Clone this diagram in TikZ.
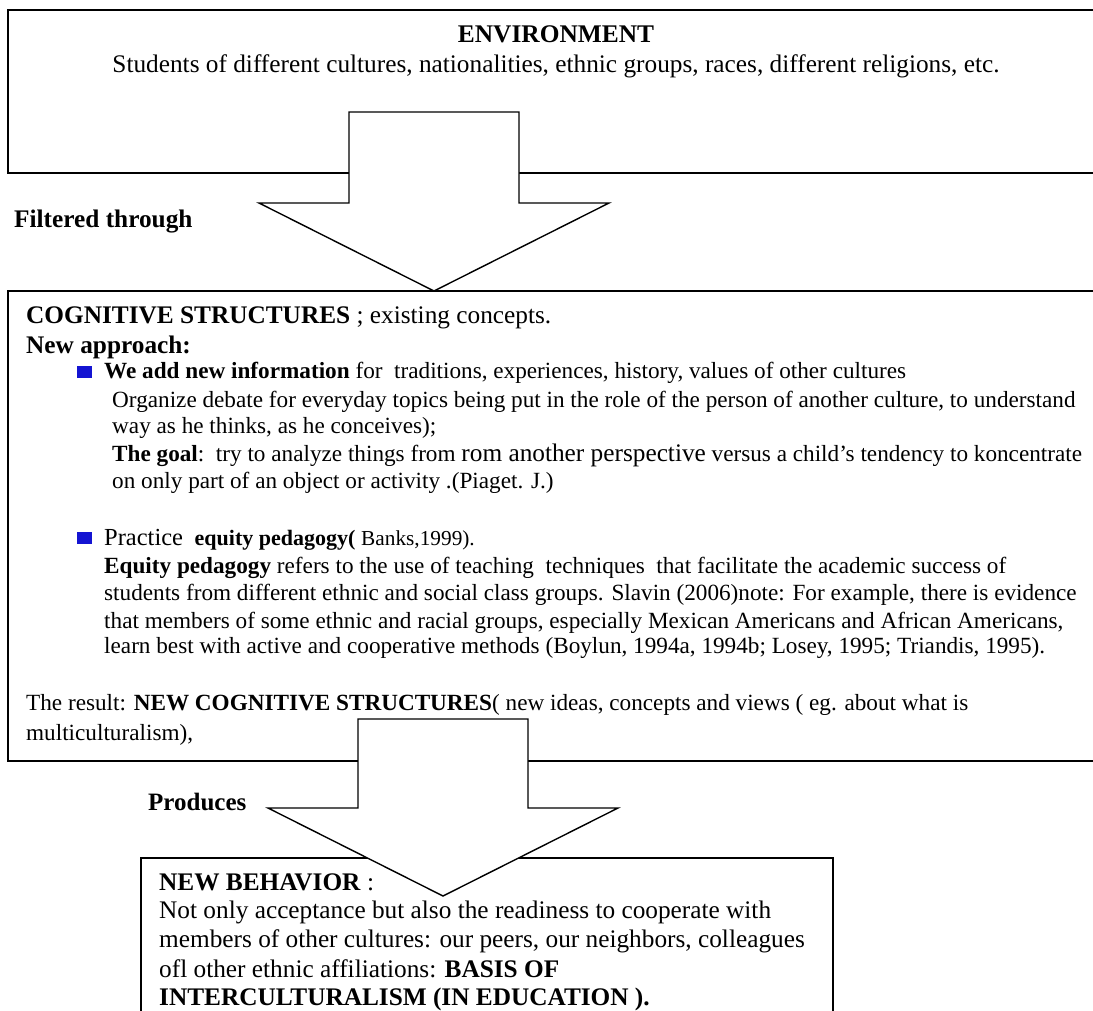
\documentclass[tikz,border=0pt]{standalone}
\usepackage{fontspec}
\setmainfont{Liberation Serif}
\definecolor{bulletblue}{RGB}{20,20,210}
\newcommand{\bigf}{\fontsize{25.3}{30}\selectfont}
\newcommand{\smallf}{\fontsize{21.3}{25}\selectfont}
\newcommand{\midf}{\fontsize{22}{26}\selectfont}
\begin{document}
\begin{tikzpicture}[x=1pt,y=-1pt,
  boxline/.style={draw, line width=1.8pt},
  blockarrow/.style={draw, line width=1.4pt, fill=white, line join=miter},
  txt/.style={anchor=base west, inner sep=0pt, font=\fontsize{23.2}{27}\selectfont},
  htxt/.style={anchor=base west, inner sep=0pt, font=\fontsize{25.3}{30}\selectfont},
  ctxt/.style={anchor=base, inner sep=0pt, font=\fontsize{25.3}{30}\selectfont},
  bsq/.style={fill=bulletblue, inner sep=0pt, minimum width=15pt, minimum height=12pt}]
\useasboundingbox (0,0) rectangle (1093,1010);
\clip (0,0) rectangle (1093,1010);
% top box
\draw[boxline] (1100,10) -- (8,10) -- (8,173) -- (1100,173);
\node[ctxt, font=\fontsize{25.4}{30}\selectfont\bfseries] (env) at (556,42) {ENVIRONMENT};
\node[ctxt] (stud) at (556,72) {Students of different cultures, nationalities, ethnic groups, races, different religions, etc.};
% arrow 1
\draw[blockarrow] (349,112) -- (519,112) -- (519,203) -- (609,203) -- (434,291) -- (259,203) -- (349,203) -- cycle;
\node[htxt, font=\fontsize{25.3}{30}\selectfont\bfseries] (filt) at (14,227) {Filtered through};
% middle box
\draw[boxline] (1100,291) -- (8,291) -- (8,761) -- (1100,761);
\node[htxt] (cog) at (26,323) {\textbf{COGNITIVE STRUCTURES} ; existing concepts.};
\node[htxt, font=\fontsize{25.3}{30}\selectfont\bfseries] (newapp) at (26,353) {New approach:};
\node[bsq] (sq1) at (84.5,372) {};
\node[txt] (l1) at (104,378) {\textbf{We add new information} for\ \ traditions, experiences, history, values of other cultures};
\node[txt] (l2) at (112,407) {Organize debate for everyday topics being put in the role of the person of another culture, to understand};
\node[txt] (l3) at (112,433) {way as he thinks, as he conceives);};
\node[txt] (l4) at (112,461) {\textbf{The goal}:\ \ try to analyze things from {\bigf rom another perspective} versus a child’s tendency to koncentrate};
\node[txt] (l5) at (112,488) {on only part of an object or activity .(Piaget. J.)};
\node[bsq] (sq2) at (84.5,538) {};
\node[txt] (p1) at (104,545) {{\fontsize{24.5}{28}\selectfont Practice}\ \ {\midf\bfseries equity pedagogy(} {\smallf Banks,1999).}};
\node[txt] (p2) at (104,573) {\textbf{Equity pedagogy} refers to the use of teaching\ \ techniques\ \ that facilitate the academic success of};
\node[txt] (p3) at (104,600) {students from different ethnic and social class groups. Slavin (2006)note: For example, there is evidence};
\node[txt] (p4) at (104,628) {that members of some ethnic and racial groups, especially Mexican Americans and African Americans,};
\node[txt] (p5) at (104,653) {learn best with active and cooperative methods (Boylun, 1994a, 1994b; Losey, 1995; Triandis, 1995).};
\node[txt] (r1) at (26,710) {The result: \textbf{NEW COGNITIVE STRUCTURES}( new ideas, concepts and views ( eg. about what is};
\node[txt] (r2) at (26,740) {multiculturalism),};
% bottom box
\draw[boxline] (141,1030) -- (141,858) -- (833,858) -- (833,1030);
% arrow 2
\draw[blockarrow] (358,719) -- (528,719) -- (528,808) -- (618,808) -- (443,896) -- (268,808) -- (358,808) -- cycle;
\node[htxt, font=\fontsize{25}{30}\selectfont\bfseries] (prod) at (148,810) {Produces};
\node[htxt] (nb) at (159,890) {\textbf{NEW BEHAVIOR} :};
\node[htxt] (n1) at (159,918) {Not only acceptance but also the readiness to cooperate with};
\node[htxt] (n2) at (159,947) {members of other cultures: our peers, our neighbors, colleagues};
\node[htxt] (n3) at (159,977) {ofl other ethnic affiliations: \textbf{BASIS OF}};
\node[htxt] (n4) at (159,1005) {\textbf{INTERCULTURALISM (IN EDUCATION ).}};
\end{tikzpicture}
\end{document}
